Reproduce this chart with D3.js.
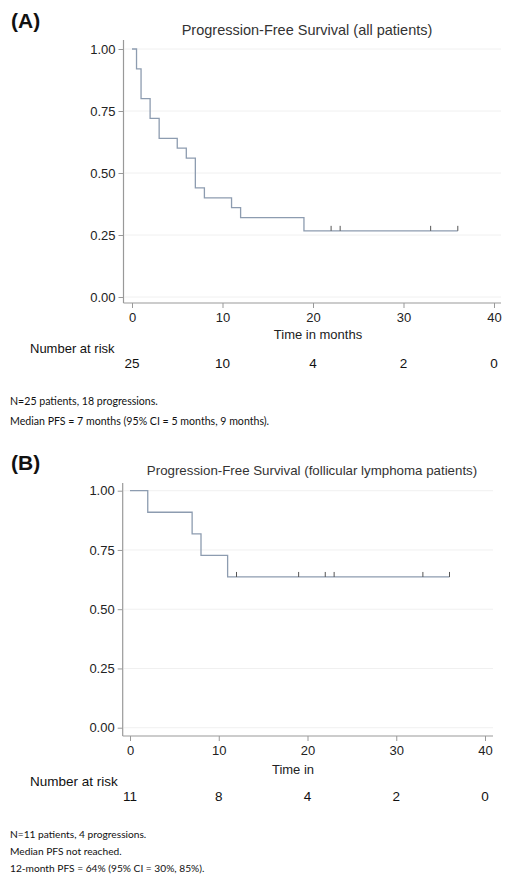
<!DOCTYPE html>
<html><head><meta charset="utf-8">
<script src="https://cdn.jsdelivr.net/npm/d3@7"></script>
<style>
html,body{margin:0;padding:0;background:#fff;}
svg{display:block;}
</style></head>
<body>
<svg id="c" width="512" height="883"></svg>
<script>
// ---- data ----
const timeA = [0, 0.5, 1, 2, 3, 5, 6, 7, 8, 11, 12, 19, 36];
const survA = [1, 0.92, 0.80, 0.72, 0.64, 0.60, 0.56, 0.44, 0.40, 0.36, 0.32, 0.2667, 0.2667];
const censorA = [22, 23, 33, 36];
const timeB = [0, 2, 7, 8, 11, 36];
const survB = [1, 0.909, 0.818, 0.727, 0.636, 0.636];
const censorB = [12, 19, 22, 23, 33, 36];
const riskTimes = [0, 10, 20, 30, 40];
const riskA = [25, 10, 4, 2, 0];
const riskB = [11, 8, 4, 2, 0];
const xTicks = [0, 10, 20, 30, 40];
const yTicks = [0, 0.25, 0.5, 0.75, 1];
const titleA = "Progression-Free Survival (all patients)";
const titleB = "Progression-Free Survival (follicular lymphoma patients)";
const notesA = ["N=25 patients, 18 progressions.", "Median PFS = 7 months (95% CI = 5 months, 9 months)."];
const notesB = ["N=11 patients, 4 progressions.", "Median PFS not reached.", "12-month PFS = 64% (95% CI = 30%, 85%)."];

const svg = d3.select("#c");
const FONT = "Liberation Sans, Arial, Helvetica, sans-serif";
const NOTEFONT = "Lato, 'Open Sans', sans-serif";

function panel(cfg){
  const g = svg.append("g");
  const x = d3.scaleLinear().domain([0,40]).range(cfg.xr);
  const y = d3.scaleLinear().domain([0,1]).range(cfg.yr);
  // label
  g.append("text").attr("x",11).attr("y",cfg.labY).attr("font-family",FONT)
    .attr("font-weight","bold").attr("font-size",21).attr("fill","#111").text(cfg.lab);
  g.append("text").attr("x",cfg.titleX).attr("y",cfg.titleY).attr("text-anchor","middle")
    .attr("font-family",FONT).attr("font-size",cfg.titleFs).attr("fill","#333").text(cfg.title);
  // gridlines
  g.selectAll("line.grid").data(yTicks).join("line").attr("class","grid")
    .attr("x1",cfg.axX+1).attr("x2",cfg.gridEnd).attr("y1",d=>y(d)).attr("y2",d=>y(d))
    .attr("stroke","#f0f0f0").attr("stroke-width",1);
  // y axis
  const ya = g.append("g").attr("transform",`translate(${cfg.axX},0)`)
    .call(d3.axisLeft(y).tickValues(yTicks).tickFormat(d3.format(".2f")).tickSize(5).tickPadding(3));
  ya.select(".domain").remove();
  ya.selectAll("line").attr("stroke","#999");
  ya.selectAll("text").attr("font-family",FONT).attr("font-size",13).attr("fill","#222");
  g.append("line").attr("x1",cfg.axX).attr("x2",cfg.axX).attr("y1",cfg.yTop).attr("y2",cfg.axY)
    .attr("stroke","#999").attr("stroke-width",1.2);
  // x axis
  const xa = g.append("g").attr("transform",`translate(0,${cfg.axY})`)
    .call(d3.axisBottom(x).tickValues(xTicks).tickSize(5).tickPadding(5));
  xa.select(".domain").remove();
  xa.selectAll("line").attr("stroke","#999");
  xa.selectAll("text").attr("font-family",FONT).attr("font-size",13).attr("fill","#222");
  g.append("line").attr("x1",cfg.axX).attr("x2",cfg.gridEnd).attr("y1",cfg.axY).attr("y2",cfg.axY)
    .attr("stroke","#999").attr("stroke-width",1.2);
  g.append("text").attr("x",cfg.xtX).attr("y",cfg.xtY).attr("text-anchor","middle")
    .attr("font-family",FONT).attr("font-size",13).attr("fill","#222").text(cfg.xt);
  // curve
  const pts = cfg.t.map((t,i)=>[t,cfg.s[i]]);
  const line = d3.line().x(d=>x(d[0])).y(d=>y(d[1])).curve(d3.curveStepAfter);
  g.append("path").attr("d",line(pts)).attr("fill","none").attr("stroke","#8d9cb0").attr("stroke-width",1.3);
  // censor ticks
  const sAt = t => { let v=1; cfg.t.forEach((tt,i)=>{ if(tt<=t) v=cfg.s[i]; }); return v; };
  g.selectAll("line.cens").data(cfg.c).join("line").attr("class","cens")
    .attr("x1",d=>x(d)).attr("x2",d=>x(d)).attr("y1",d=>y(sAt(d))).attr("y2",d=>y(sAt(d))-5)
    .attr("stroke","#555").attr("stroke-width",1);
  // number at risk
  g.append("text").attr("x",30).attr("y",cfg.narY).attr("font-family",FONT).attr("font-size",cfg.narFs)
    .attr("fill","#111").text("Number at risk");
  g.selectAll("text.risk").data(riskTimes).join("text").attr("class","risk")
    .attr("x",d=>x(d)).attr("y",cfg.riskY).attr("text-anchor","middle")
    .attr("font-family",FONT).attr("font-size",13.5).attr("fill","#111")
    .text((d,i)=>cfg.risk[i]);
  // notes
  g.selectAll("text.note").data(cfg.notes).join("text").attr("class","note")
    .attr("x",10).attr("y",(d,i)=>cfg.noteY + i*cfg.noteDy)
    .attr("font-family",NOTEFONT).attr("font-size",cfg.noteFs).attr("fill","#111").text(d=>d);
}

panel({lab:"(A)", labY:28, title:titleA, titleFs:14.5, titleX:307, titleY:35,
  xr:[132,494], yr:[297,49], axX:123.5, axY:303, yTop:40, gridEnd:501,
  xt:"Time in months", xtX:318, xtY:339, t:timeA, s:survA, c:censorA,
  narY:353, narFs:13, riskY:368, risk:riskA, notes:notesA, noteY:405, noteDy:20, noteFs:10.6});

panel({lab:"(B)", labY:470, title:titleB, titleFs:13.3, titleX:312, titleY:475,
  xr:[130,485], yr:[727.7,490.7], axX:122.7, axY:736, yTop:483, gridEnd:493,
  xt:"Time in", xtX:293, xtY:774, t:timeB, s:survB, c:censorB,
  narY:786, narFs:13.5, riskY:801, risk:riskB, notes:notesB, noteY:838, noteDy:17, noteFs:10.2});
</script>
</body></html>
